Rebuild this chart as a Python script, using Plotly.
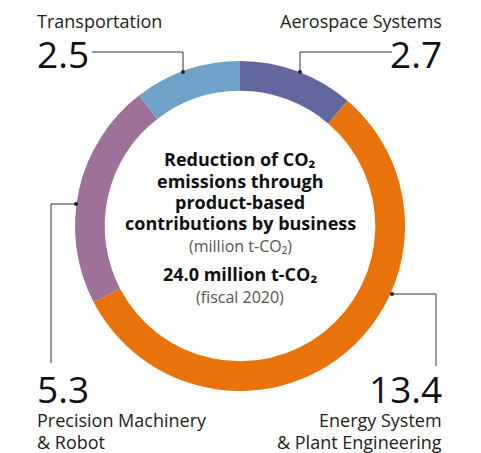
import plotly.graph_objects as go

# ---- data ----
segments = ["Aerospace Systems", "Energy System & Plant Engineering",
            "Precision Machinery & Robot", "Transportation"]
values = [2.7, 13.4, 5.3, 2.5]
colors = ["#62679D", "#E8730A", "#9D7198", "#6FA2C9"]
value_labels = ["2.7", "13.4", "5.3", "2.5"]
total_label = "24.0 million t-CO₂"

W, H = 481, 453
FONT = "Open Sans"


def px(x, y):
    return x / W, 1 - y / H


fig = go.Figure(go.Pie(
    labels=segments, values=values, sort=False, direction="clockwise",
    rotation=0, hole=0.82, textinfo="none", hoverinfo="label+value",
    marker=dict(colors=colors, line=dict(width=0)),
    domain=dict(x=[75 / W, 405 / W], y=[1 - 391 / H, 1 - 61 / H]),
    showlegend=False,
))

ann = []


def add_text(text, x, y, size, anchor="left", color="#1a1a1a", bold=False, align=None):
    xx, yy = px(x, y)
    ann.append(dict(text=f"<b>{text}</b>" if bold else text, x=xx, y=yy,
                    xref="paper", yref="paper", xanchor=anchor, yanchor="middle",
                    showarrow=False, align=align or anchor,
                    font=dict(family=FONT, size=size, color=color)))


# corner labels
add_text("Transportation", 35, 21, 18, "left", "#222")
add_text(value_labels[3], 35, 54, 37, "left", "#111")
add_text("Aerospace Systems", 444, 21, 18, "right", "#222")
add_text(value_labels[0], 444, 54, 37, "right", "#111")
add_text(value_labels[2], 35, 388, 37, "left", "#111")
add_text("Precision Machinery", 35, 420, 18, "left", "#222")
add_text("& Robot", 35, 442, 18, "left", "#222")
add_text(value_labels[1], 444, 388, 37, "right", "#111")
add_text("Energy System", 444, 420, 18, "right", "#222")
add_text("& Plant Engineering", 444, 442, 18, "right", "#222")

# center text
center_lines = [("Reduction of CO₂", 159), ("emissions through", 181),
                ("product-based", 202), ("contributions by business", 223)]
for t, y in center_lines:
    add_text(t, 240, y, 18, "center", "#111", bold=True)
add_text("(million t-CO₂)", 240, 246, 16, "center", "#555")
add_text(total_label, 240, 274, 18, "center", "#111", bold=True)
add_text("(fiscal 2020)", 240, 297, 16, "center", "#555")

# leader lines
shapes = []


def path(points):
    d = ""
    for i, (x, y) in enumerate(points):
        xx, yy = px(x, y)
        d += ("M" if i == 0 else "L") + f"{xx},{yy} "
    shapes.append(dict(type="path", path=d.strip(), xref="paper", yref="paper",
                       line=dict(color="#333", width=1)))


def dot(x, y):
    x0, y0 = px(x - 2, y - 2)
    x1, y1 = px(x + 2, y + 2)
    shapes.append(dict(type="circle", x0=x0, y0=y0, x1=x1, y1=y1, xref="paper", yref="paper",
                       fillcolor="#222", line=dict(width=0)))


path([(92, 52), (183, 52), (183, 72)]); dot(183, 72)
path([(392, 52), (300, 52), (300, 72)]); dot(300, 72)
path([(76, 204), (51, 204), (51, 363)]); dot(76, 204)
path([(392, 294), (436, 294), (436, 366)]); dot(392, 294)

fig.update_layout(width=W, height=H, margin=dict(l=0, r=0, t=0, b=0),
                  paper_bgcolor="white", plot_bgcolor="white",
                  annotations=ann, shapes=shapes)
fig.write_html("out.html")
